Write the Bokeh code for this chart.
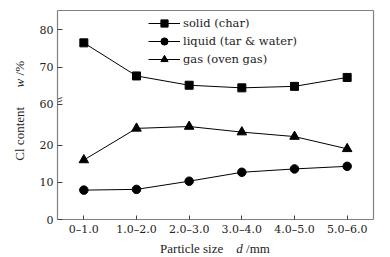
from bokeh.plotting import figure
from bokeh.models import FactorRange, Range1d, FixedTicker, Legend, LinearAxis, Div
from bokeh.layouts import row, column
from bokeh.embed import file_html
from bokeh.resources import INLINE

categories = ["0\u20131.0", "1.0\u20132.0", "2.0\u20133.0", "3.0\u20134.0", "4.0\u20135.0", "5.0\u20136.0"]
solid = [76.5, 67.6, 65.1, 64.4, 64.8, 67.2]
liquid = [7.9, 8.1, 10.3, 12.7, 13.6, 14.3]
gas = [16.0, 24.5, 25.0, 23.5, 22.3, 19.0]
y_ticks = [0, 10, 20, 60, 70, 80]

BREAK_LOW = 40
BREAK_SHIFT = 29
Y_TOP = 56.2

def brk(v):
    return v - BREAK_SHIFT if v >= BREAK_LOW else v

FONT = "DejaVu Serif"

YW = 34                      # width of y-title column
FW, FH = 316, 209            # frame size
HF = 237                     # figure height
p = figure(frame_width=FW, frame_height=FH, x_range=FactorRange(*categories),
           y_range=Range1d(0, Y_TOP), output_backend="svg", toolbar_location=None,
           min_border_left=57 - YW, min_border_right=9, min_border_top=10,
           min_border_bottom=HF - 10 - FH)
p.grid.visible = False
p.outline_line_color = None
p.background_fill_color = "white"
p.border_fill_color = "white"

xa = p.below[0]
ya = p.left[0]
for ax in (xa, ya):
    ax.axis_line_color = "#808080"
    ax.axis_line_width = 1.2
    ax.major_tick_line_color = "#404040"
    ax.major_tick_out = 0
    ax.minor_tick_line_color = None
    ax.major_label_text_font = FONT
    ax.major_label_text_font_size = "11px"
    ax.major_label_text_color = "#222222"

xa.major_tick_in = 4
xa.major_label_standoff = 3
ya.major_tick_in = 5
ya.major_label_standoff = 4
ya.ticker = FixedTicker(ticks=[brk(t) for t in y_ticks])
ya.major_label_overrides = {brk(t): str(t) for t in y_ticks}

# top / right frame lines
ax_r = LinearAxis(ticker=FixedTicker(ticks=[]), major_tick_in=0, major_tick_out=0,
                  minor_tick_line_color=None, major_label_standoff=0)
ax_t = LinearAxis(ticker=FixedTicker(ticks=[]), major_tick_in=0, major_tick_out=0,
                  minor_tick_line_color=None, major_label_standoff=0)
for a in (ax_r, ax_t):
    a.axis_line_color = "#808080"
    a.axis_line_width = 1.2
p.add_layout(ax_r, "right")
p.add_layout(ax_t, "above")

s_solid = [brk(v) for v in solid]
s_liquid = [brk(v) for v in liquid]
s_gas = [brk(v) for v in gas]

l1 = p.line(categories, s_solid, line_color="black", line_width=1)
m1 = p.scatter(categories, s_solid, marker="square", size=8, color="black")
l2 = p.line(categories, s_liquid, line_color="black", line_width=1)
m2 = p.scatter(categories, s_liquid, marker="circle", size=8.5, color="black")
l3 = p.line(categories, s_gas, line_color="black", line_width=1)
m3 = p.scatter(categories, s_gas, marker="triangle", size=9.5, color="black")

legend = Legend(items=[("solid (char)", [l1, m1]),
                       ("liquid (tar & water)", [l2, m2]),
                       ("gas (oven gas)", [l3, m3])],
                location=(91, 151), margin=0, padding=0, spacing=0,
                glyph_width=32, glyph_height=18, label_height=18, label_standoff=3,
                label_text_font=FONT, label_text_font_size="11.5px",
                label_text_color="#222222",
                border_line_color=None, background_fill_alpha=0)
p.add_layout(legend, "center")

# axis-break mark on the left axis just above 60
yb = brk(60)
p.segment(x0=[-0.03, -0.03], y0=[yb + 0.4, yb + 1.2], x1=[0.09, 0.09], y1=[yb + 1.0, yb + 1.8],
          line_color="#404040", line_width=1)

CSSF = "'Liberation Serif','Times New Roman',serif"
ydiv = Div(text=(f'<div style="width:{YW}px;height:{HF}px;display:flex;align-items:center;'
                 f'justify-content:center;"><span style="writing-mode:vertical-rl;'
                 f'transform:rotate(180deg);font-family:{CSSF};font-size:13px;color:#222;'
                 f'white-space:nowrap;margin-top:-16px;margin-left:6px;">Cl content&nbsp;&nbsp;&nbsp;&nbsp;&nbsp;&nbsp;'
                 f'<i>w</i> /%</span></div>'),
           width=YW, height=HF, margin=(0, 0, 0, 0))
xdiv = Div(text=(f'<div style="width:382px;height:20px;padding-left:57px;box-sizing:border-box;'
                 f'text-align:center;font-family:{CSSF};font-size:13px;color:#222;'
                 f'line-height:22px;padding-right:9px;white-space:pre;">Particle size    '
                 f'<i>d</i> /mm</div>'),
           width=382, height=20, margin=(0, 0, 0, 0))

layout = column(row(ydiv, p, spacing=0), xdiv, spacing=0)
open("out.html", "w").write(file_html(layout, INLINE))
